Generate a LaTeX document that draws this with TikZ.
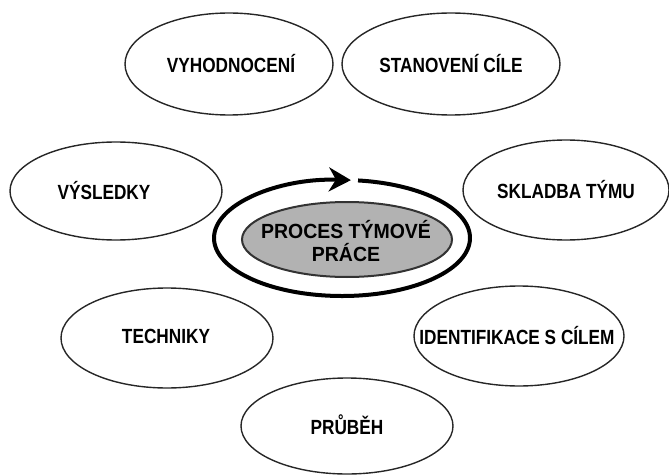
\documentclass[tikz,border=0pt]{standalone}
\usepackage{fontspec}
\setmainfont{Liberation Sans}[FakeStretch=0.84]
\newfontfamily\centerfont{Liberation Sans}[FakeStretch=0.95]
\usetikzlibrary{shapes.geometric,arrows.meta}
\begin{document}
\begin{tikzpicture}[x=1pt,y=-1pt,
  goal/.style={ellipse, draw=black!85, line width=1.4pt, inner sep=0pt},
  txt/.style={inner sep=0pt, font=\fontsize{20.5}{24}\selectfont\bfseries},
  ringline/.style={line width=4pt, -{Stealth[length=22pt,width=24pt,inset=7pt]}},
  core/.style={ellipse, draw=black!80, line width=2pt, fill=black!30, inner sep=0pt},
  coretxt/.style={inner sep=0pt, align=center, font=\centerfont\fontsize{20.5}{23}\selectfont\bfseries}
]
\useasboundingbox (0,0) rectangle (669,476);

\node[goal, minimum width=208pt, minimum height=102pt] (vyh) at (229,64) {};
\node[txt] (vyh-t) at (231,64) {VYHODNOCENÍ};

\node[goal, minimum width=218pt, minimum height=102pt] (sta) at (451,64) {};
\node[txt] (sta-t) at (451,64) {STANOVENÍ CÍLE};

\node[goal, minimum width=212pt, minimum height=98pt] (vys) at (116,191) {};
\node[txt] (vys-t) at (104,191) {VÝSLEDKY};

\node[goal, minimum width=206pt, minimum height=100pt] (skl) at (566,190) {};
\node[txt] (skl-t) at (566,190) {SKLADBA TÝMU};

\node[goal, minimum width=212pt, minimum height=100pt] (tec) at (167,338) {};
\node[txt] (tec-t) at (166,336) {TECHNIKY};

\node[goal, minimum width=210pt, minimum height=100pt] (idn) at (519,336) {};
\node[txt] (idn-t) at (517,336) {IDENTIFIKACE S CÍLEM};

\node[goal, minimum width=212pt, minimum height=96pt] (pru) at (347,426) {};
\node[txt] (pru-t) at (347,425) {PRŮBĚH};

\coordinate (ringc) at (342,238);
\draw[ringline] ([shift={(-82.8:128 and 58)}]ringc)
  arc[start angle=-82.8, end angle=274, x radius=128, y radius=58];

\node[core, minimum width=210pt, minimum height=75pt] (proc) at (347,239.5) {};
\node[coretxt] (proc-t) at (346,241) {PROCES TÝMOVÉ\\PRÁCE};
\end{tikzpicture}
\end{document}
